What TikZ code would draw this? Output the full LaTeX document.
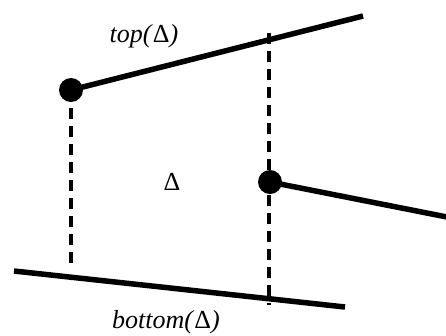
\documentclass[tikz,border=0pt]{standalone}
\usepackage{fontspec}
\setmainfont{Liberation Serif}
\begin{document}
\begin{tikzpicture}[x=1pt,y=-1pt,
  thick line/.style={line width=5.5pt},
  dash line/.style={line width=3.2pt,dash pattern=on 11pt off 7pt},
  dotnode/.style={circle,fill=black,inner sep=0pt,minimum size=24pt},
  lab/.style={font=\fontsize{26}{28}\selectfont\itshape,inner sep=0pt}]
\useasboundingbox (0,0) rectangle (446,335);
\node[dotnode] (d1) at (71,90) {};
\node[dotnode] (d2) at (270,182) {};
\coordinate (t2) at (363,16);
\coordinate (r2) at (452,218);
\coordinate (b1) at (14,271);
\coordinate (b2) at (345,307);
\coordinate (tv) at (269,33);
\coordinate (bv) at (269,305);
\coordinate (lv) at (71,270);
\draw[thick line] (d1.center) -- (t2);
\draw[thick line] (d2.center) -- (r2);
\draw[thick line] (b1) -- (b2);
\draw[dash line] (tv) -- (bv);
\draw[dash line] (d1.center) -- (lv);
\node[lab] (top) at (144,36) {top(\textup{Δ})};
\node[lab] (bot) at (166,322) {bottom(\textup{Δ})};
\node[lab,font=\fontsize{26}{28}\selectfont] (delta) at (172,182) {Δ};
\end{tikzpicture}
\end{document}
